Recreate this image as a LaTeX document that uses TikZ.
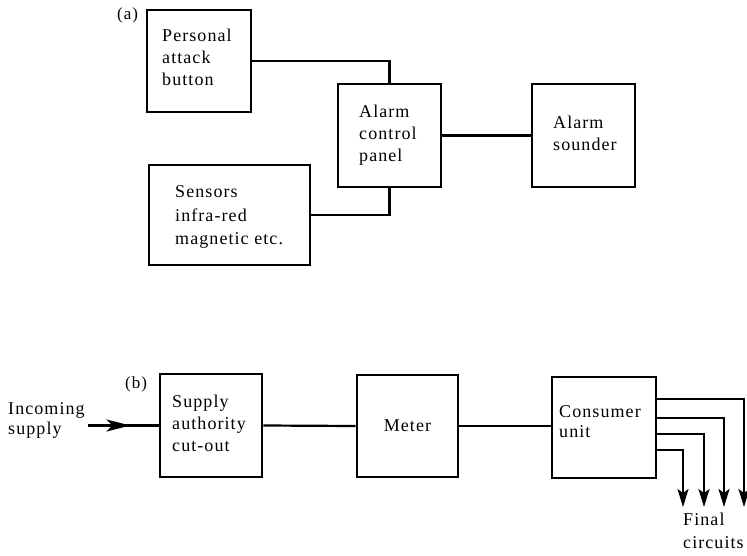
\documentclass[tikz,border=0pt]{standalone}
\usepackage{fontspec}
\setmainfont{Liberation Serif}[LetterSpace=6]
\usetikzlibrary{arrows.meta,decorations.markings}
\begin{document}
\begin{tikzpicture}[x=1pt,y=-1pt,
  box/.style={draw, line width=2.6pt, inner sep=0pt, font=\fontsize{18}{22}\selectfont},
  txt/.style={align=left, inner sep=0pt, anchor=north west, font=\fontsize{18}{22}\selectfont},
  tag/.style={inner sep=0pt, anchor=base west, font=\fontsize{17}{20}\selectfont},
  conn/.style={draw, line width=2.2pt},
  fcarrow/.style={conn, -{Stealth[length=18pt,width=11pt,inset=4pt]}},
  midarrow/.style={decoration={markings, mark=at position 0.6 with {\arrow{Stealth[length=24pt,width=12pt,inset=6pt]}}}, postaction={decorate}}
]
\useasboundingbox (0,0) rectangle (747,556);

% ---------- (a) ----------
\node[tag] (la) at (117,20) {(a)};
\node[box, minimum width=104pt, minimum height=102pt] (pab) at (199,61) {};
\node[txt] (pabt) at (162,28.7) {Personal\\attack\\button};
\node[box, minimum width=103pt, minimum height=103pt] (acp) at (389.5,135.5) {};
\node[txt] (acpt) at (359,104.7) {Alarm\\control\\panel};
\node[box, minimum width=103pt, minimum height=103pt] (snd) at (583.5,135.5) {};
\node[txt] (sndt) at (553,115.7) {Alarm\\sounder};
\node[box, minimum width=161pt, minimum height=100pt] (sen) at (229.5,215) {};
\node[txt, font=\fontsize{18}{23.5}\selectfont] (sent) at (175,185.7) {Sensors\\infra-red\\magnetic etc.};

\draw[conn] (pab.east) -| (acp.north);
\draw[conn] (sen.east) -| (acp.south);
\draw[conn] (acp.east) -- (snd.west);

% ---------- (b) ----------
\node[tag] (lb) at (125,388) {(b)};
\node[txt, font=\fontsize{18}{20}\selectfont] (inc) at (8,402.7) {Incoming\\supply};
\node[box, minimum width=102pt, minimum height=103pt] (sup) at (211,425.5) {};
\node[txt] (supt) at (172,394.7) {Supply\\authority\\cut-out};
\node[box, minimum width=101pt, minimum height=102pt] (met) at (407.5,426) {Meter};
\node[box, minimum width=104pt, minimum height=101pt] (cu) at (604,427.5) {};
\node[txt, font=\fontsize{18}{20}\selectfont] (cut) at (559,405.7) {Consumer\\unit};
\node[txt, font=\fontsize{18}{23}\selectfont] (fin) at (683,512.7) {Final\\circuits};

\coordinate (incs) at (88,425.5);
\draw[conn, line width=3pt, midarrow] (incs) -- (sup.west);
\draw[conn] (sup.east) -- (met.west);
\draw[conn] (met.east) -- (met.east -| cu.west);

\coordinate (f1) at (744,507);
\coordinate (f2) at (724,507);
\coordinate (f3) at (704,507);
\coordinate (f4) at (683,507);
\draw[fcarrow] (cu.east |- 0,399) -| (f1);
\draw[fcarrow] (cu.east |- 0,418) -| (f2);
\draw[fcarrow] (cu.east |- 0,434) -| (f3);
\draw[fcarrow] (cu.east |- 0,450) -| (f4);
\end{tikzpicture}
\end{document}
